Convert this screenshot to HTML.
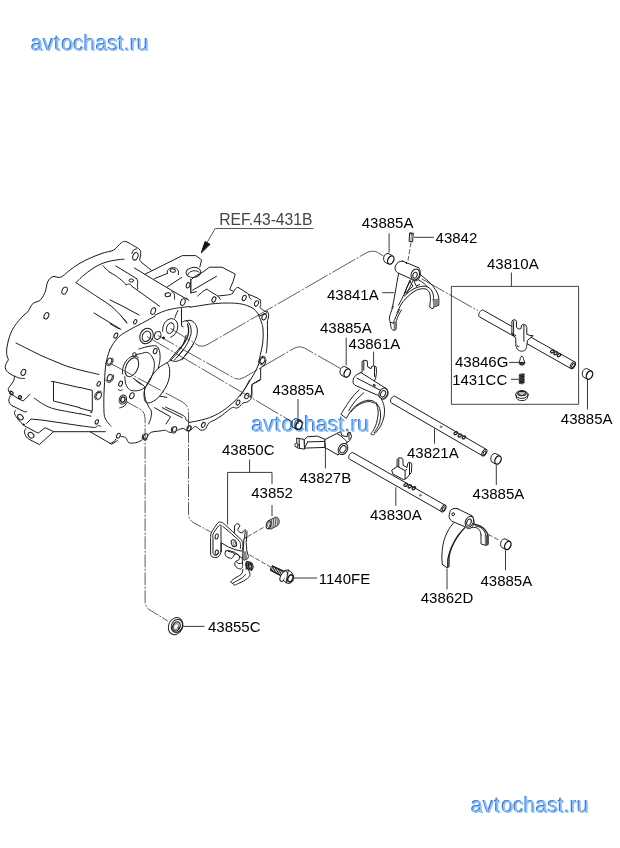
<!DOCTYPE html>
<html>
<head>
<meta charset="utf-8">
<title>avtochast.ru</title>
<style>
html,body{margin:0;padding:0;background:#fff;}
body{width:620px;height:848px;overflow:hidden;position:relative;font-family:"Liberation Sans",sans-serif;}
svg{position:absolute;left:0;top:0;display:block;}
.l{font-family:"Liberation Sans",sans-serif;font-size:15px;fill:#000;}
.ref{font-family:"Liberation Sans",sans-serif;font-size:15.7px;fill:#454545;}
.wmd{font-family:"Liberation Sans",sans-serif;font-size:21.2px;fill:#3d7dd0;}
.wml{font-family:"Liberation Sans",sans-serif;font-size:21.2px;fill:#8fc0f3;}
.k path,.k ellipse,.k line,.k circle{fill:none;stroke:#1c1c1c;stroke-width:1;stroke-linecap:round;stroke-linejoin:round;}
.k .f{fill:#fff;}
.k .t{stroke-width:.7;stroke:#444;}
.k .b{stroke-width:1.3;}
.k .d{stroke-width:.8;stroke:#333;stroke-dasharray:26 1.8 2 1.8;stroke-linecap:butt;}
.k .g{stroke:#666;}
.k .blk{fill:#111;stroke:#111;}
.k .wf{fill:#fff;stroke:#111;stroke-width:.5;}
.k .gr3{fill:#bbb;stroke:none;}
.k .gr4{fill:#ddd;stroke:#222;stroke-width:1;}
.k .d3{stroke-width:.8;stroke:#333;stroke-dasharray:13 1.5 2 1.5;stroke-linecap:butt;}
.k .d2{stroke-width:.8;stroke:#333;stroke-dasharray:5 1.8;stroke-linecap:butt;}
.k .fb{fill:#fff;stroke-width:1.3;stroke:#111;}
.k .gr5{fill:#555;stroke:#333;stroke-width:.6;}
.k .gr2{fill:#999;stroke:#222;stroke-width:.9;}
.k .f0{fill:none;stroke:none;}
.k .gr{fill:#8a8a8a;stroke:#555;stroke-width:.6;}
.k .ld{stroke:#3a3a3a;stroke-width:1;stroke-linecap:butt;}
.k .ldg{stroke:#555;stroke-width:1;stroke-linecap:butt;}
</style>
</head>
<body>
<svg width="620" height="848" viewBox="0 0 620 848">
<defs>
<linearGradient id="wg" x1="0" y1="0" x2="0" y2="1">
<stop offset="0" stop-color="#6fade9"/>
<stop offset="1" stop-color="#4a8edb"/>
</linearGradient>
<filter id="gs" x="0" y="0" width="100%" height="100%" filterUnits="userSpaceOnUse" color-interpolation-filters="sRGB"><feColorMatrix type="saturate" values="0"/></filter>
<filter id="wb" x="-5%" y="-30%" width="110%" height="170%" color-interpolation-filters="sRGB"><feGaussianBlur stdDeviation="0.28"/></filter>
</defs>
<rect x="0" y="0" width="620" height="848" fill="#fff"/>

<g id="housing" class="k">
<path d="M110.0,251.2 C108.7,251.6 104.7,252.5 102.0,253.4 C99.3,254.3 96.7,255.3 94.0,256.4 C91.3,257.5 88.7,258.7 86.0,260.0 C83.3,261.3 80.7,262.7 78.0,264.4 C75.3,266.1 72.3,268.3 70.0,270.0 C67.7,271.7 65.9,273.6 64.4,274.8 C62.9,276.0 62.1,276.6 61.0,277.0 C59.9,277.4 59.2,277.5 58.0,277.4 C56.8,277.3 55.3,276.3 54.0,276.4 C52.7,276.5 51.5,277.1 50.4,278.0 C49.3,278.9 48.3,280.5 47.6,282.0 C46.9,283.5 46.8,285.3 46.4,287.0 C46.0,288.7 45.7,290.6 45.0,292.4 C44.3,294.2 43.0,296.6 42.0,298.0 C41.0,299.4 40.2,300.3 39.0,301.0 C37.8,301.7 36.2,301.8 35.0,302.4 C33.8,303.0 32.8,303.5 32.0,304.4 C31.2,305.3 30.7,306.8 30.0,308.0 C29.3,309.2 29.0,310.4 28.0,311.6 C27.0,312.8 25.5,313.5 24.0,315.0 C22.5,316.5 20.7,318.4 19.0,320.4 C17.3,322.4 15.4,324.7 14.0,327.0 C12.6,329.3 11.4,331.5 10.4,334.0 C9.4,336.5 8.6,339.3 8.0,342.0 C7.4,344.7 6.8,347.7 6.6,350.0 C6.4,352.3 6.7,354.4 7.0,356.0 C7.3,357.6 8.4,358.6 8.4,359.6 C8.4,360.6 7.5,361.0 7.0,362.0 C6.5,363.0 5.6,364.4 5.4,365.6 C5.2,366.8 5.2,367.9 5.6,369.0 C6.0,370.1 6.9,371.4 8.0,372.4 C9.1,373.4 10.9,374.3 12.0,375.0 C13.1,375.7 14.2,376.2 14.6,376.4"/>
<path d="M124.0,259.2 C122.7,259.3 118.7,259.6 116.0,260.0 C113.3,260.4 110.7,260.9 108.0,261.6 C105.3,262.3 102.7,263.2 100.0,264.4 C97.3,265.6 94.7,267.2 92.0,269.0 C89.3,270.8 86.2,273.2 84.0,275.0 C81.8,276.8 80.3,278.3 79.0,279.6 C77.7,280.9 76.5,282.1 76.0,282.6"/>
<path d="M76.0,282.6 C79.3,284.8 89.9,291.9 95.8,295.8 C101.7,299.7 106.9,302.8 111.2,306.2 C115.5,309.6 119.0,313.6 121.6,316.4 C124.2,319.2 125.9,322.1 126.8,323.2"/>
<path d="M103.0,265.6 C103.3,266.0 103.8,266.9 105.0,268.0 C106.2,269.1 109.2,271.7 110.0,272.4"/>
<path d="M94.0,313.0 L121.0,329.4"/>
<path d="M16.0,343.0 C18.0,344.0 24.0,347.0 28.0,349.0 C32.0,351.0 35.7,353.0 40.0,355.0 C44.3,357.0 49.3,359.1 54.0,361.0 C58.7,362.9 63.0,364.9 68.0,366.6 C73.0,368.3 78.8,369.7 84.0,371.0 C89.2,372.3 96.5,373.8 99.0,374.4"/>
<ellipse cx="64.6" cy="290.6" rx="2.4" ry="3.8" transform="rotate(25 64.6 290.6)"/>
<ellipse cx="46.4" cy="315.8" rx="2.2" ry="3.4" transform="rotate(25 46.4 315.8)"/>
<ellipse cx="23.4" cy="372.4" rx="2.2" ry="3.2" transform="rotate(25 23.4 372.4)"/>
<path d="M110.0,251.5 C110.6,251.2 112.6,250.8 113.9,249.9 C115.2,249.1 116.5,247.6 117.7,246.3 C119.0,245.1 120.4,243.3 121.6,242.5 C122.8,241.6 123.8,241.4 124.8,241.4 C125.9,241.4 127.5,242.3 128.1,242.5"/>
<path d="M128.1,242.5 C129.4,243.2 134.0,245.9 135.8,247.0 C137.6,248.0 138.2,248.1 139.0,248.9 C139.8,249.7 140.5,250.6 140.7,251.7 C140.9,252.9 140.6,254.6 140.5,256.0 C140.3,257.4 139.5,258.8 139.7,259.9 C139.9,260.9 141.3,262.0 141.6,262.5"/>
<path d="M141.6,262.5 L151.3,270.2"/>
<ellipse cx="135.4" cy="256.3" rx="2.5" ry="3.9" transform="rotate(20 135.4 256.3)"/>
<path d="M136.5,248.9 C136.0,249.1 134.2,249.4 133.5,250.2 C132.7,250.9 132.2,252.9 131.9,253.4"/>
<path d="M115.8,265.9 L136.5,278.6"/>
<path d="M136.5,278.6 C136.7,279.0 137.6,280.0 137.7,281.2 C137.9,282.3 137.4,284.4 137.4,285.7 C137.4,287.0 137.7,288.4 137.7,288.9"/>
<path d="M110.0,272.4 C111.1,273.0 114.3,274.8 116.5,276.3 C118.6,277.8 121.3,280.0 122.9,281.4 C124.5,282.8 125.6,284.2 126.1,284.8"/>
<path d="M126.1,284.8 C126.7,284.6 128.4,283.8 129.4,284.0 C130.3,284.2 131.5,285.7 131.9,286.1"/>
<ellipse cx="131.3" cy="280.5" rx="2.3" ry="1.5"/>
<path d="M131.9,286.3 L159.7,306.3"/>
<path d="M134.5,268.0 L144.8,274.3 L166.8,287.6 L187.4,299.5"/>
<path d="M144.8,274.3 L182.3,255.6 L190.0,255.6"/>
<path d="M154.5,278.6 L167.4,273.4"/>
<path d="M167.4,273.4 C167.4,272.9 167.1,271.4 167.5,270.6 C168.0,269.7 169.1,268.8 170.0,268.3 C170.9,267.8 172.2,267.6 173.2,267.6 C174.3,267.7 175.6,267.9 176.5,268.5 C177.3,269.1 178.1,270.1 178.4,271.1 C178.7,272.1 178.4,274.1 178.4,274.7"/>
<ellipse cx="172.8" cy="270.6" rx="2.6" ry="1.7" transform="rotate(10 172.8 270.6)"/>
<path d="M166.8,287.2 L181.6,277.5"/>
<ellipse cx="188.1" cy="285.3" rx="1.8" ry="2.8" transform="rotate(20 188.1 285.3)"/>
<ellipse cx="167.8" cy="294.7" rx="2.8" ry="1.9" transform="rotate(-10 167.8 294.7)"/>
<path d="M171.9,291.5 C172.3,291.9 173.8,292.8 174.3,294.1 C174.7,295.4 174.5,298.4 174.5,299.2"/>
<ellipse cx="182.9" cy="302.1" rx="2.2" ry="3.4" transform="rotate(20 182.9 302.1)"/>
<path d="M186.1,297.9 C186.4,298.1 187.2,298.5 187.7,299.0 C188.1,299.4 188.5,300.3 188.7,300.5"/>
<ellipse cx="153.2" cy="311.1" rx="2.2" ry="3.5" transform="rotate(20 153.2 311.1)"/>
<path d="M110.0,299.9 L122.9,306.3 L139.0,315.0"/>
<path d="M155.2,315.0 C156.7,314.3 161.0,312.2 164.2,311.1 C167.4,310.0 170.2,309.3 174.5,308.5 C178.8,307.7 187.4,306.8 190.0,306.5"/>
<path d="M190.0,255.6 L195.8,255.6 L201.6,259.9 L199.8,267.0"/>
<path d="M198.0,274.7 L202.9,272.1 L209.4,267.2 L222.0,267.2 L235.2,274.1 L233.2,281.2 L229.7,289.5 L232.8,291.0"/>
<path d="M198.0,274.7 C197.4,275.0 195.5,275.9 194.5,276.6 C193.5,277.4 192.4,278.8 191.9,279.2"/>
<path d="M192.6,290.2 L216.5,276.3"/>
<path d="M190.8,279.2 L190.8,292.8" class="b"/>
<path d="M190.8,292.8 L196.5,291.7"/>
<path d="M197.7,296.0 C198.6,295.2 201.4,292.6 202.9,291.5 C204.4,290.3 206.1,289.5 206.8,289.2"/>
<path d="M206.8,289.2 C207.5,289.7 209.5,291.0 211.3,292.1 C213.1,293.3 216.2,294.8 217.7,296.0 C219.2,297.2 219.9,298.9 220.3,299.5"/>
<path d="M217.7,296.0 C219.6,295.8 226.2,295.2 228.7,294.8 C231.2,294.4 231.9,293.8 232.6,293.5"/>
<path d="M232.6,293.5 C232.9,293.0 233.9,291.1 234.5,290.2 C235.2,289.2 235.8,288.3 236.5,287.9 C237.1,287.4 238.1,287.7 238.4,287.6"/>
<path d="M238.4,287.6 L246.8,292.8"/>
<path d="M246.8,292.8 C247.1,293.1 248.2,293.9 248.7,294.7 C249.2,295.5 249.2,296.9 249.6,297.7 C250.0,298.4 251.0,299.0 251.3,299.2"/>
<path d="M248.7,294.3 L257.1,297.9 L260.3,300.0"/>
<path d="M260.3,300.0 C260.4,300.7 260.7,303.1 260.7,304.4 C260.7,305.7 259.6,306.9 260.3,308.0 C261.0,309.1 263.7,310.4 264.8,311.1 C266.0,311.8 266.8,312.0 267.2,312.1"/>
<ellipse cx="213.9" cy="299.5" rx="1.8" ry="2.8" transform="rotate(25 213.9 299.5)"/>
<ellipse cx="244.2" cy="297.9" rx="1.8" ry="2.8" transform="rotate(25 244.2 297.9)"/>
<ellipse cx="256.5" cy="303.4" rx="1.8" ry="2.8" transform="rotate(25 256.5 303.4)"/>
<path d="M190.0,307.2 C192.2,306.9 198.6,305.8 202.9,305.2 C207.2,304.5 211.5,303.8 215.8,303.5 C220.1,303.1 224.7,302.9 228.7,303.0 C232.7,303.0 236.6,303.3 239.7,303.7 C242.8,304.2 245.1,304.8 247.4,305.7 C249.8,306.6 252.0,307.6 253.9,309.0 C255.7,310.5 257.6,313.3 258.4,314.2"/>
<path d="M155.2,316.0 C153.0,317.2 146.6,320.8 142.3,323.1 C138.0,325.4 133.0,327.8 129.4,329.9 C125.7,332.0 122.8,333.6 120.3,335.6 C117.8,337.6 116.2,339.5 114.5,341.8 C112.8,344.1 110.8,348.0 110.0,349.3"/>
<ellipse cx="135.2" cy="321.8" rx="1.4" ry="2.3" transform="rotate(25 135.2 321.8)"/>
<ellipse cx="115.8" cy="335.6" rx="1.7" ry="2.8" transform="rotate(25 115.8 335.6)"/>
<ellipse cx="120.6" cy="383.7" rx="1.7" ry="2.7" transform="rotate(25 120.6 383.7)"/>
<path d="M121.0,316.0 L126.8,322.5"/>
<path d="M110.0,323.7 L119.0,328.9"/>
<ellipse cx="146.5" cy="336.0" rx="6.5" ry="8.0" transform="rotate(25 146.5 336.0)"/>
<ellipse cx="146.5" cy="336.3" rx="4.1" ry="5.4" transform="rotate(25 146.5 336.3)"/>
<ellipse cx="157.7" cy="335.4" rx="3.2" ry="4.1" transform="rotate(20 157.7 335.4)"/>
<ellipse cx="163.5" cy="337.9" rx="0.9" ry="1.0" class="blk"/>
<ellipse cx="134.5" cy="354.7" rx="1.8" ry="2.1"/>
<ellipse cx="155.2" cy="351.1" rx="1.8" ry="2.8" transform="rotate(20 155.2 351.1)"/>
<path d="M133.2,378.2 L143.8,385.7"/>
<path d="M135.8,380.5 L141.0,384.4"/>
<ellipse cx="109.4" cy="361.2" rx="2.2" ry="3.2" transform="rotate(25 109.4 361.2)"/>
<path d="M112.6,358.3 C112.7,358.5 113.0,359.1 113.0,359.5 C113.1,360.0 113.1,360.5 113.0,360.9 C112.9,361.4 112.8,361.9 112.6,362.4 C112.4,362.9 112.1,363.3 111.8,363.7 C111.5,364.1 111.2,364.5 110.8,364.8 C110.4,365.1 110.0,365.3 109.6,365.4 C109.2,365.6 108.8,365.6 108.4,365.6 C108.0,365.6 107.6,365.5 107.3,365.3 C106.9,365.1 106.6,364.9 106.4,364.6 C106.1,364.3 105.9,363.6 105.8,363.4"/>
<path d="M118.4,389.5 C118.7,389.7 119.7,390.5 120.3,390.6 C121.0,390.6 121.9,389.9 122.3,389.8"/>
<path d="M258.4,314.2 C258.6,314.8 259.1,316.3 259.6,317.6 C260.1,318.9 260.9,320.4 261.4,322.0 C261.9,323.6 262.5,324.9 262.8,327.1 C263.1,329.3 263.2,332.5 263.2,335.0 C263.2,337.5 263.0,339.8 262.8,342.0 C262.6,344.2 262.2,345.8 261.8,348.0 C261.4,350.2 260.8,352.7 260.2,355.5 C259.6,358.3 258.7,363.4 258.4,365.0"/>
<path d="M267.2,311.4 C267.4,311.8 268.5,312.8 268.7,313.9 C268.9,315.0 268.4,316.8 268.2,318.1 C268.0,319.5 267.5,319.2 267.4,322.0 C267.3,324.8 267.6,330.9 267.5,335.0 C267.4,339.1 267.2,343.5 267.0,346.5 C266.8,349.5 266.3,351.9 266.2,353.0"/>
<path d="M259.2,316.2 L266.5,313.0"/>
<ellipse cx="264.2" cy="316.9" rx="2.1" ry="3.1" transform="rotate(25 264.2 316.9)"/>
<path d="M258.4,365.0 C257.5,366.8 255.2,371.9 253.2,375.4 C251.3,378.8 248.9,382.2 246.8,385.7 C244.6,389.1 241.4,394.3 240.3,396.0"/>
<path d="M266.1,359.9 L265.1,364.0 L260.7,367.9 L260.7,379.2 L251.9,384.4 L251.7,393.4 L250.4,396.6"/>
<ellipse cx="262.5" cy="360.5" rx="2.2" ry="3.1" transform="rotate(25 262.5 360.5)"/>
<path d="M262.4,364.7 C262.2,364.7 261.4,364.8 261.0,364.6 C260.6,364.5 260.1,364.2 259.8,363.9 C259.5,363.5 259.2,363.0 259.1,362.5 C259.0,362.0 258.9,361.4 259.0,360.8 C259.0,360.3 259.2,359.6 259.5,359.1 C259.7,358.6 260.1,358.0 260.5,357.6 C260.9,357.2 261.4,356.8 261.9,356.6 C262.3,356.4 262.9,356.3 263.3,356.3 C263.8,356.3 264.3,356.5 264.7,356.7 C265.1,357.0 265.5,357.6 265.6,357.8"/>
<ellipse cx="131.9" cy="395.7" rx="2.1" ry="3.1" transform="rotate(25 131.9 395.7)"/>
<ellipse cx="122.9" cy="399.6" rx="3.6" ry="4.6" transform="rotate(20 122.9 399.6)"/>
<ellipse cx="122.9" cy="399.6" rx="2.1" ry="2.7" transform="rotate(20 122.9 399.6)" class="b"/>
<path d="M119.7,407.9 C120.4,407.6 122.9,407.1 124.2,406.1 C125.5,405.0 127.1,402.4 127.7,401.7"/>
<path d="M144.8,386.5 C144.8,387.5 144.3,390.8 144.5,392.9 C144.6,395.1 145.0,397.5 145.5,399.4 C146.0,401.2 146.8,402.5 147.4,403.9 C148.0,405.2 148.3,406.2 149.0,407.4 C149.6,408.5 150.9,409.3 151.3,411.0 C151.6,412.6 151.5,415.3 151.0,417.4 C150.6,419.6 149.1,422.8 148.7,423.9"/>
<path d="M159.7,396.1 L166.8,397.4"/>
<path d="M154.5,407.7 L170.6,416.8 L166.1,423.9"/>
<path d="M162.3,407.7 L182.3,417.7"/>
<path d="M165.5,407.1 C168.5,408.5 180.1,413.6 183.5,415.7 C187.0,417.9 185.1,418.9 186.1,420.0 C187.2,421.1 189.4,422.2 190.0,422.6"/>
<path d="M110.0,443.5 C110.6,443.2 112.9,442.4 113.9,441.7 C114.8,440.9 115.5,439.5 115.8,439.1"/>
<path d="M121.0,436.5 C121.7,436.7 124.4,436.7 125.5,437.4 C126.6,438.1 126.8,439.7 127.4,440.6 C128.1,441.6 128.0,442.6 129.4,443.0 C130.8,443.3 133.9,443.1 135.8,442.7 C137.7,442.3 139.7,441.4 141.0,440.6 C142.2,439.9 142.9,438.7 143.3,438.3"/>
<path d="M147.7,435.7 C148.3,435.2 149.4,433.0 151.3,432.3 C153.2,431.5 156.7,431.4 159.0,431.1 C161.4,430.8 163.9,430.2 165.5,430.3 C167.0,430.5 167.3,431.5 168.3,431.9 C169.4,432.3 171.1,432.5 171.7,432.6"/>
<path d="M176.8,430.6 C177.4,430.3 179.2,429.4 180.3,429.0 C181.4,428.7 182.5,428.3 183.5,428.5 C184.6,428.8 185.9,430.2 186.4,430.6"/>
<ellipse cx="118.4" cy="435.7" rx="1.7" ry="2.6" transform="rotate(25 118.4 435.7)"/>
<ellipse cx="145.5" cy="436.4" rx="1.9" ry="2.8" transform="rotate(25 145.5 436.4)"/>
<path d="M147.1,439.3 C146.9,439.4 146.5,439.7 146.2,439.8 C145.9,440.0 145.6,440.1 145.2,440.1 C144.9,440.1 144.6,440.1 144.3,440.1 C144.0,440.0 143.7,439.9 143.5,439.7 C143.2,439.5 143.0,439.3 142.8,439.0 C142.6,438.8 142.5,438.4 142.4,438.1 C142.3,437.8 142.2,437.4 142.2,437.1 C142.2,436.7 142.3,436.3 142.4,436.0 C142.5,435.6 142.6,435.2 142.8,434.9 C142.9,434.6 143.3,434.1 143.4,434.0"/>
<ellipse cx="174.5" cy="429.3" rx="1.9" ry="2.8" transform="rotate(25 174.5 429.3)"/>
<path d="M176.1,432.2 C176.0,432.3 175.5,432.6 175.2,432.7 C174.9,432.9 174.6,433.0 174.3,433.0 C174.0,433.1 173.6,433.0 173.3,433.0 C173.0,432.9 172.8,432.8 172.5,432.6 C172.3,432.4 172.0,432.2 171.8,431.9 C171.7,431.7 171.5,431.3 171.4,431.0 C171.3,430.7 171.3,430.3 171.3,430.0 C171.3,429.6 171.3,429.2 171.4,428.9 C171.5,428.5 171.6,428.1 171.8,427.8 C172.0,427.5 172.3,427.0 172.4,426.9"/>
<ellipse cx="189.0" cy="428.4" rx="1.8" ry="2.8" transform="rotate(25 189.0 428.4)" class="b"/>
<path d="M249.4,380.0 C248.7,381.3 247.0,385.3 245.5,387.7 C244.0,390.2 242.3,392.5 240.3,394.8 C238.4,397.2 236.2,399.7 233.9,401.9 C231.5,404.2 228.7,406.5 226.1,408.4 C223.5,410.3 221.2,412.0 218.4,413.5 C215.6,415.1 212.4,416.6 209.4,417.7 C206.3,418.8 203.5,419.5 200.3,420.3 C197.1,421.0 191.7,422.0 190.0,422.3"/>
<path d="M260.3,380.0 C259.8,380.3 258.4,381.2 257.1,381.9 C255.8,382.7 253.5,383.3 252.6,384.5 C251.7,385.7 251.8,387.2 251.7,389.0 C251.6,390.9 252.1,393.8 251.9,395.5 C251.8,397.2 251.5,398.2 250.6,399.4 C249.8,400.5 248.1,401.6 246.8,402.2 C245.5,402.8 244.1,402.3 242.9,403.0 C241.7,403.7 240.8,405.6 239.7,406.5 C238.6,407.3 237.6,408.0 236.5,408.1 C235.3,408.3 234.1,406.9 232.6,407.4 C231.1,407.8 229.4,409.5 227.4,411.0 C225.5,412.4 223.1,414.6 221.0,416.1 C218.8,417.6 216.5,418.9 214.5,420.0 C212.6,421.1 210.6,421.5 209.4,422.6 C208.1,423.7 207.5,425.3 206.8,426.5 C206.0,427.6 205.9,429.1 204.8,429.7 C203.8,430.3 201.5,430.4 200.3,430.1 C199.1,429.7 198.6,428.3 197.7,427.7 C196.9,427.1 196.0,426.3 195.2,426.5 C194.3,426.6 193.4,427.7 192.6,428.4 C191.7,429.0 190.4,430.0 190.0,430.3"/>
<ellipse cx="246.8" cy="396.1" rx="1.9" ry="2.8" transform="rotate(25 246.8 396.1)"/>
<ellipse cx="238.0" cy="402.6" rx="1.7" ry="2.6" transform="rotate(25 238.0 402.6)"/>
<ellipse cx="203.3" cy="424.9" rx="1.7" ry="2.6" transform="rotate(25 203.3 424.9)"/>
<path d="M14.6,376.1 C15.4,376.4 17.7,377.6 19.4,378.0 C21.0,378.4 23.7,378.4 24.5,378.5"/>
<path d="M14.6,376.1 C14.4,376.9 14.2,379.5 13.5,381.0 C12.9,382.4 11.8,383.6 11.0,384.8 C10.1,386.1 8.8,387.2 8.4,388.3 C8.0,389.4 8.7,390.8 8.8,391.3"/>
<ellipse cx="11.4" cy="393.0" rx="1.9" ry="1.5" transform="rotate(30 11.4 393.0)" class="b"/>
<ellipse cx="20.0" cy="397.1" rx="1.5" ry="1.4" transform="rotate(30 20.0 397.1)" class="b"/>
<path d="M8.8,391.3 L12.9,395.2 L18.1,398.6 L23.2,401.0 L29.9,394.3"/>
<path d="M10.3,395.8 C10.1,396.5 8.9,398.4 8.8,399.7 C8.7,401.0 9.0,402.5 9.7,403.5 C10.4,404.6 12.4,405.7 12.9,406.1"/>
<path d="M12.9,406.1 L25.2,412.1 L26.7,411.3"/>
<path d="M15.5,410.3 C15.3,410.8 14.2,412.0 14.5,413.2 C14.7,414.5 15.7,416.2 16.8,417.7 C17.8,419.2 19.5,421.1 20.6,422.3 C21.8,423.4 23.0,424.4 23.5,424.8"/>
<ellipse cx="20.4" cy="417.1" rx="3.1" ry="2.3" transform="rotate(40 20.4 417.1)"/>
<ellipse cx="23.5" cy="424.5" rx="0.6" ry="0.6" class="blk"/>
<path d="M26.5,423.5 L31.0,419.0 L43.9,420.3 L80.0,425.7"/>
<path d="M23.9,425.5 L38.1,433.2 L45.2,427.7 L53.9,431.7"/>
<path d="M25.8,428.7 C25.6,429.2 24.4,430.5 24.5,431.9 C24.6,433.3 25.4,435.7 26.5,437.1 C27.5,438.5 30.2,439.8 31.0,440.3"/>
<path d="M31.0,440.3 L39.4,444.6 L53.5,431.7"/>
<ellipse cx="31.0" cy="435.2" rx="3.2" ry="2.5" transform="rotate(40 31.0 435.2)"/>
<path d="M34.2,398.1 C35.6,399.1 39.7,402.2 42.6,403.8 C45.5,405.5 48.0,406.9 51.6,408.1 C55.3,409.3 59.8,410.1 64.5,411.0 C69.2,412.0 77.4,413.4 80.0,413.9"/>
<path d="M51.6,381.4 L53.5,381.6 L80.0,387.7"/>
<path d="M53.5,381.6 L53.5,401.0 L80.0,407.7"/>
<path d="M80.0,387.4 L92.3,390.4 L92.3,411.3 L80.0,408.2"/>
<path d="M90.3,412.1 L91.7,412.6"/>
<path d="M80.0,413.6 L91.0,416.2"/>
<path d="M80.0,425.7 C81.4,425.9 85.9,426.5 88.4,426.8 C90.9,427.1 93.3,427.5 94.8,427.4 C96.3,427.3 96.8,426.5 97.4,426.1 C98.1,425.8 98.2,425.5 98.7,425.5 C99.2,425.5 100.3,426.1 100.6,426.3"/>
<path d="M53.9,431.7 L105.2,431.7"/>
<path d="M90.3,431.9 L111.6,444.2 L117.4,440.7"/>
<path d="M109.9,349.4 C109.4,351.1 107.5,356.2 106.7,359.7 C105.9,363.1 105.5,366.1 105.2,370.0 C104.8,373.9 104.7,378.6 104.5,382.9 C104.3,387.2 104.0,391.5 103.9,395.8 C103.8,400.1 103.8,405.3 103.9,408.7 C104.0,412.2 104.0,414.3 104.5,416.5 C105.1,418.6 106.0,420.0 107.1,421.6 C108.2,423.2 110.3,425.4 111.0,426.1"/>
<ellipse cx="109.7" cy="377.7" rx="2.3" ry="3.4" transform="rotate(25 109.7 377.7)"/>
<path d="M113.1,374.8 C113.1,375.0 113.4,375.6 113.5,376.1 C113.5,376.5 113.5,377.0 113.5,377.5 C113.4,378.0 113.3,378.6 113.1,379.0 C112.9,379.5 112.6,380.0 112.3,380.4 C112.0,380.8 111.6,381.2 111.2,381.5 C110.8,381.8 110.4,382.0 110.0,382.1 C109.6,382.3 109.1,382.3 108.7,382.3 C108.3,382.3 107.9,382.2 107.5,382.0 C107.2,381.8 106.9,381.6 106.6,381.2 C106.4,380.9 106.1,380.3 106.0,380.1"/>
<ellipse cx="98.7" cy="383.9" rx="1.5" ry="2.5" transform="rotate(25 98.7 383.9)"/>
<ellipse cx="98.7" cy="395.8" rx="2.5" ry="3.5" transform="rotate(25 98.7 395.8)"/>
<path d="M96.1,399.9 C95.9,399.7 95.5,399.3 95.3,398.9 C95.0,398.5 94.9,398.1 94.8,397.6 C94.7,397.1 94.7,396.6 94.8,396.1 C94.8,395.6 95.0,395.0 95.2,394.5 C95.4,394.0 95.7,393.6 96.0,393.1 C96.3,392.7 96.7,392.3 97.1,392.0 C97.4,391.7 97.9,391.5 98.3,391.3 C98.8,391.2 99.2,391.1 99.6,391.1 C100.1,391.1 100.5,391.2 100.8,391.4 C101.2,391.6 101.7,392.0 101.8,392.2"/>
<ellipse cx="96.8" cy="421.9" rx="1.5" ry="2.3" transform="rotate(25 96.8 421.9)"/>
<path d="M139.0,349.0 C140.3,348.6 144.3,347.3 146.9,346.7 C149.5,346.2 152.9,345.5 154.8,345.7 C156.7,345.9 157.4,346.6 158.3,347.9 C159.1,349.2 159.7,351.5 159.9,353.5 C160.2,355.6 160.2,357.8 159.9,360.3 C159.7,362.7 158.5,366.9 158.3,368.3"/>
<path d="M135.8,354.7 C136.7,354.5 139.4,353.9 141.2,353.5 C143.1,353.2 145.2,352.0 146.9,352.4 C148.6,352.8 150.2,354.0 151.4,355.7 C152.6,357.4 153.9,360.1 154.3,362.6 C154.6,365.0 154.3,367.8 153.7,370.5 C153.2,373.1 152.0,375.9 150.9,378.3 C149.8,380.8 148.5,383.3 146.9,385.2 C145.3,387.1 143.3,388.7 141.2,389.7 C139.2,390.6 136.5,390.9 134.5,390.8 C132.5,390.8 130.8,390.7 129.4,389.5 C127.9,388.4 126.5,385.9 125.7,383.7 C125.0,381.6 125.0,377.8 124.8,376.6"/>
<path d="M167.3,362.6 C167.7,363.5 169.1,366.0 169.5,368.3 C169.8,370.5 169.8,373.5 169.5,376.1 C169.1,378.8 168.4,381.4 167.3,384.0 C166.2,386.6 164.5,389.4 162.8,391.9 C161.1,394.3 159.2,396.9 157.1,398.7 C155.0,400.5 152.2,402.0 150.3,402.6 C148.4,403.1 146.8,403.1 145.7,402.1 C144.7,401.0 144.2,398.5 144.1,396.4 C143.9,394.3 143.7,392.7 144.7,389.7 C145.7,386.7 148.0,381.9 150.3,378.3 C152.5,374.8 155.4,370.9 158.3,368.3 C161.1,365.6 165.8,363.5 167.3,362.6"/>
<path d="M167.3,362.6 C168.2,361.8 171.0,360.0 172.8,358.1 C174.7,356.2 176.8,353.5 178.5,351.2 C180.2,349.0 181.8,347.2 183.0,344.5 C184.3,341.9 185.6,336.9 186.1,335.4"/>
<path d="M170.6,360.3 C171.4,360.5 173.7,361.4 175.2,361.4 C176.7,361.4 178.2,361.0 179.7,360.3 C181.2,359.5 182.7,358.4 184.2,356.9 C185.7,355.4 187.2,353.3 188.7,351.2 C190.2,349.2 192.5,345.6 193.2,344.5"/>
<ellipse cx="131.9" cy="367.2" rx="5.9" ry="10.1" transform="rotate(25 131.9 367.2)"/>
<path d="M122.7,374.0 C122.7,373.6 122.5,372.2 122.5,371.2 C122.5,370.2 122.6,369.1 122.9,368.1 C123.1,367.0 123.4,365.9 123.9,364.9 C124.3,363.9 124.8,362.9 125.4,362.0 C126.0,361.1 126.7,360.2 127.4,359.4 C128.1,358.7 128.9,358.0 129.7,357.5 C130.5,357.0 131.3,356.5 132.1,356.3 C132.9,356.0 133.7,355.9 134.5,355.9 C135.2,355.9 135.9,356.1 136.6,356.4 C137.2,356.6 138.1,357.4 138.4,357.6"/>
<path d="M181.5,308.5 L181.5,326.1 L183.2,326.7"/>
<path d="M177.9,310.6 C177.6,311.3 176.5,313.3 176.0,314.5 C175.5,315.7 175.2,317.3 175.0,317.9"/>
<path d="M162.7,331.3 C162.7,330.5 162.6,328.2 163.0,326.8 C163.3,325.4 164.0,323.8 164.9,322.6 C165.7,321.4 166.9,320.4 168.0,319.7 C169.1,319.0 170.5,318.6 171.6,318.6 C172.7,318.7 174.0,319.1 174.9,319.7 C175.8,320.4 176.6,321.5 177.1,322.7 C177.6,323.9 177.8,325.4 177.7,326.9 C177.7,328.3 177.3,330.0 176.7,331.3 C176.1,332.7 175.1,334.1 174.1,335.1 C173.1,336.0 171.3,336.8 170.7,337.2"/>
<ellipse cx="170.2" cy="328.1" rx="3.6" ry="5.4" transform="rotate(20 170.2 328.1)"/>
<path d="M186.1,320.8 C186.8,320.7 188.7,320.1 190.0,320.3 C191.3,320.6 192.8,321.1 193.9,322.3 C195.0,323.4 196.2,325.3 196.8,327.1 C197.4,328.9 197.4,331.0 197.3,332.9 C197.1,334.8 196.5,336.8 195.8,338.7 C195.1,340.7 194.0,342.6 192.9,344.5 C191.8,346.5 190.3,348.6 189.0,350.3 C187.8,352.1 186.3,353.6 185.2,355.2 C184.0,356.8 182.7,359.2 182.3,360.0"/>
<path d="M182.7,321.8 C183.3,321.6 185.1,320.6 186.1,320.8 C187.2,321.1 188.2,322.0 189.0,323.2 C189.8,324.4 190.7,326.3 191.0,328.1 C191.3,329.8 191.3,331.9 191.0,333.9 C190.7,335.8 189.8,337.8 189.0,339.7 C188.2,341.6 187.2,343.7 186.1,345.5 C185.1,347.3 183.9,348.9 182.7,350.3 C181.6,351.8 179.9,353.6 179.4,354.2"/>
<path d="M187.6,324.2 C187.8,325.0 188.5,327.3 188.6,329.0 C188.6,330.8 188.5,333.1 188.1,334.8 C187.7,336.6 186.9,338.1 186.1,339.7 C185.3,341.3 184.3,343.1 183.2,344.5 C182.2,346.0 180.4,347.8 179.8,348.4" class="b"/>
<path d="M179.4,348.4 L169.7,360.0"/>
<path d="M183.2,350.3 L174.5,360.0"/>
<ellipse cx="193.4" cy="272.4" rx="7.4" ry="5.0" transform="rotate(-5 193.4 272.4)"/>
<path d="M188.0,274.9 C188.0,274.8 188.0,274.3 188.1,274.0 C188.3,273.7 188.4,273.4 188.7,273.1 C188.9,272.8 189.2,272.5 189.6,272.2 C189.9,272.0 190.3,271.7 190.7,271.6 C191.2,271.4 191.7,271.2 192.1,271.1 C192.6,270.9 193.2,270.9 193.7,270.8 C194.2,270.8 194.7,270.8 195.2,270.8 C195.7,270.8 196.3,270.9 196.7,271.0 C197.2,271.1 197.6,271.3 198.0,271.5 C198.4,271.7 198.9,272.0 199.0,272.2"/>
</g>
<g id="centerlines" class="k">
<path d="M383.5,256 L377.5,252.3 Q375.5,251.2 372.5,251.2 Q369,251.3 366,253 L207,344.8 Q203,347 199,345.9 L170.4,328.3" class="d"/>
<path d="M340.6,368.6 L304.5,348 Q299.6,345.3 294.6,348 L244.2,377.4 Q239.5,380.2 235.2,378.6 L157.7,335.4" class="d"/>
<path d="M147,336.5 L293,422.3" class="d"/>
<path d="M110,363.1 L182.3,401.9 Q188.5,405.5 188.5,412" class="d"/>
<path d="M188.5,412 V513 Q188.5,520 194,523 L211.3,532.3" class="d3"/>
<path d="M126.8,401.9 L141,409.7 Q145.1,412.5 145.1,418.7 V602 Q145.3,607.5 150,610 L167.7,621" class="d3"/>
<path d="M247.4,536.8 L265,526.5" class="d2"/>
<path d="M249.4,554.8 L270.5,567" class="d2"/>
<path d="M221,538.7 L234,545.2" class="d2"/>
<path d="M421.6,278.8 L478,310.7" class="d"/>
<path d="M411,242.4 L407.7,262.4" class="d2"/>
<path d="M488,534.2 L499.7,540.6" class="d2"/>
</g>
<g id="rods" class="k">
<path d="M451.8,286.4 H578.6 V404.3 H451.8 Z" style="stroke-width:.95;stroke:#3a3a3a"/>
<path d="M571.0,368.6 L479.4,316.8 L479.0,316.4 L478.8,315.9 L478.7,315.1 L478.8,314.3 L479.1,313.4 L479.5,312.5 L480.0,311.7 L480.7,311.0 L481.3,310.4 L482.0,310.1 L482.6,310.0 L483.2,310.2 L574.8,362.0" class="f"/>
<ellipse cx="572.9" cy="365.3" rx="2.1" ry="3.8" transform="rotate(29.5 572.9 365.3)" class="f"/>
<ellipse cx="573.2" cy="365.4" rx="1.1" ry="2.3" transform="rotate(29.5 572.9 365.3)"/>
<ellipse cx="552.3" cy="351.3" rx="1.9" ry="1.2" transform="rotate(-30.5 552.3 351.3)" class="b"/>
<ellipse cx="555.6" cy="353.2" rx="1.9" ry="1.2" transform="rotate(-30.5 555.6 353.2)" class="b"/>
<ellipse cx="559.0" cy="355.2" rx="1.9" ry="1.2" transform="rotate(-30.5 559.0 355.2)" class="b"/>
<path d="M511.9,333.5 L511.9,321.3 L513.0,319.9 L515.4,319.9 L516.5,321.3 L516.5,327.2 L518.3,329.0 L520.8,328.8 L521.5,325.4 L523.3,324.3 L525.7,325.0 L526.8,327.5 L526.8,334.2 L530.0,335.5 L533.2,335.7 L530.0,338.1 L527.4,340.6 L526.8,345.8 L526.8,345.8 C526.6,346.5 526.3,348.8 525.5,349.7 C524.6,350.6 522.9,351.2 521.6,351.2 C520.3,351.2 518.7,350.6 517.7,349.7 C516.8,348.8 516.1,346.5 515.8,345.8 L515.8,345.8 L515.8,338.1 L511.9,333.5 Z" class="f"/>
<path d="M513.6,321.5 L513.6,334.8"/>
<path d="M523.9,325.4 L523.9,341.3"/>
<path d="M517.1,345.2 C517.2,345.5 517.7,346.9 518.0,347.1 C518.3,347.2 518.9,346.2 519.0,346.1"/>
<path d="M511.9,333.5 L515.8,335.7"/>
<path d="M482.5,455.8 L391.1,402.7 L390.7,402.3 L390.5,401.8 L390.4,401.0 L390.5,400.2 L390.8,399.3 L391.2,398.5 L391.8,397.7 L392.4,397.0 L393.1,396.5 L393.7,396.2 L394.3,396.1 L394.9,396.3 L486.3,449.4" class="f"/>
<ellipse cx="484.4" cy="452.6" rx="2.0" ry="3.7" transform="rotate(30.2 484.4 452.6)" class="f"/>
<ellipse cx="484.7" cy="452.8" rx="1.1" ry="2.2" transform="rotate(30.2 484.4 452.6)"/>
<ellipse cx="455.8" cy="433.2" rx="1.9" ry="1.2" transform="rotate(-29.8 455.8 433.2)" class="b"/>
<ellipse cx="459.8" cy="435.6" rx="1.9" ry="1.2" transform="rotate(-29.8 459.8 435.6)" class="b"/>
<ellipse cx="463.9" cy="437.3" rx="1.9" ry="1.2" transform="rotate(-29.8 463.9 437.3)" class="b"/>
<circle cx="441.0" cy="426.8" r="0.9" class="t"/>
<path d="M441.7,511.7 L349.4,459.1 L349.0,458.7 L348.7,458.2 L348.7,457.5 L348.8,456.6 L349.0,455.8 L349.4,454.9 L350.0,454.1 L350.6,453.4 L351.2,452.9 L351.9,452.6 L352.5,452.5 L353.0,452.7 L445.3,505.3" class="f"/>
<ellipse cx="443.5" cy="508.5" rx="2.0" ry="3.7" transform="rotate(29.7 443.5 508.5)" class="f"/>
<ellipse cx="443.8" cy="508.6" rx="1.1" ry="2.2" transform="rotate(29.7 443.5 508.5)"/>
<ellipse cx="405.8" cy="484.8" rx="1.9" ry="1.2" transform="rotate(-30.3 405.8 484.8)" class="b"/>
<ellipse cx="409.8" cy="486.5" rx="1.9" ry="1.2" transform="rotate(-30.3 409.8 486.5)" class="b"/>
<ellipse cx="413.9" cy="488.1" rx="1.9" ry="1.2" transform="rotate(-30.3 413.9 488.1)" class="b"/>
<circle cx="420.3" cy="495.3" r="0.9" class="t"/>
<path d="M397.1,466.2 L397.1,459.3 L398.8,457.8 L401.9,458.0 L403.0,459.9 L403.0,465.2 L407.1,467.5 L407.6,463.5 L409.2,462.2 L411.3,463.1 L411.8,465.6 L411.3,472.5 L406.7,478.2 L403.4,479.6 L392.9,474.0 L391.8,470.6 Z" class="f"/>
<path d="M398.8,458.9 L398.8,466.8"/>
<path d="M409.5,463.1 L409.5,474.6"/>
<path d="M397.1,466.2 L405.1,470.6 L405.1,479.0"/>
<path d="M405.1,470.6 L406.7,469.4"/>
</g>
<g id="forks" class="k">
<path d="M402.6,261.1 C401.9,261.3 399.8,261.4 398.6,262.0 C397.5,262.7 396.4,263.9 395.8,265.1 C395.2,266.2 394.9,267.9 395.0,269.0 C395.2,270.2 396.1,271.2 396.7,271.9 C397.3,272.6 398.3,273.0 398.6,273.2 L398.6,273.2 L411.0,278.9 L411.0,278.9 C411.5,279.1 412.8,280.3 413.9,280.5 C414.9,280.8 416.3,280.9 417.3,280.3 C418.2,279.7 419.2,278.3 419.7,276.9 C420.3,275.6 420.6,273.9 420.4,272.4 C420.3,270.9 419.2,268.7 419.0,267.9 L419.0,267.9 L402.6,261.1 Z" class="f"/>
<ellipse cx="415.3" cy="274.5" rx="4.1" ry="5.6" transform="rotate(20 415.3 274.5)" class="f"/>
<ellipse cx="415.0" cy="275.2" rx="2.1" ry="3.0" transform="rotate(20 415.0 275.2)"/>
<path d="M406.2,262.5 L406.6,263.4" class="b"/>
<path d="M398.6,273.5 C398.3,275.1 397.5,279.4 396.9,282.6 C396.4,285.8 395.8,289.5 395.2,292.7 C394.7,295.9 394.1,299.1 393.5,301.8 C393.0,304.4 392.1,307.4 391.9,308.5"/>
<path d="M410.7,279.8 C410.1,281.0 408.2,284.7 407.1,287.1 C406.0,289.4 405.2,291.8 404.3,293.9 C403.3,295.9 402.4,297.6 401.5,299.5 C400.5,301.4 399.1,304.2 398.6,305.2"/>
<path d="M412.7,280.9 C412.3,281.9 411.0,284.9 409.9,287.1 C408.9,289.3 407.1,292.7 406.5,293.9"/>
<path d="M409.6,280.9 L404.3,293.9 L413.0,286.2 L409.6,280.9"/>
<path d="M404.3,296.1 C405.1,295.4 407.6,292.9 409.4,291.6 C411.1,290.3 413.1,289.1 415.0,288.2 C416.9,287.4 419.0,286.9 420.6,286.5 C422.3,286.2 423.7,285.9 425.2,286.2 C426.7,286.5 428.5,287.2 429.7,288.2 C430.9,289.2 431.8,290.7 432.5,292.2 C433.2,293.7 433.5,296.0 433.6,297.3 C433.8,298.5 433.3,299.3 433.3,299.7"/>
<path d="M396.9,313.1 C397.4,312.0 398.7,308.8 399.8,306.9 C400.8,304.9 401.7,303.3 403.1,301.5 C404.6,299.8 406.4,297.8 408.2,296.1 C410.0,294.5 412.0,292.8 413.9,291.6 C415.8,290.4 417.6,289.6 419.5,289.1 C421.4,288.7 423.7,288.5 425.2,288.8 C426.7,289.1 427.7,290.0 428.5,291.0 C429.4,292.1 429.9,293.4 430.2,295.0 C430.5,296.6 430.4,298.8 430.4,300.6 C430.3,302.5 429.8,305.4 429.7,306.3"/>
<path d="M419.7,274.1 C420.6,274.9 423.3,277.0 425.2,278.6 C427.0,280.2 429.1,281.9 430.8,283.7 C432.5,285.5 434.1,287.5 435.3,289.4 C436.5,291.2 437.6,293.3 438.1,295.0 C438.7,296.7 438.7,297.8 438.8,299.5 C438.9,301.2 438.7,304.2 438.7,305.2"/>
<path d="M418.4,279.8 C419.1,280.2 421.4,281.5 422.9,282.6 C424.4,283.7 426.7,285.9 427.4,286.5"/>
<path d="M413.9,280.9 L416.4,286.2"/>
<path d="M416.4,286.2 L419.7,284.3"/>
<path d="M429.7,306.3 C429.9,306.6 430.2,307.6 430.8,308.0 C431.4,308.4 432.6,308.7 433.1,308.5 C433.6,308.4 433.6,307.2 433.7,307.0"/>
<path d="M433.7,307.0 L438.7,305.2"/>
<path d="M433.1,299.7 L438.7,299.0 L438.7,305.2 L433.7,307.0 L433.1,299.7 Z" class="gr"/>
<path d="M393.4,306.1 C393.1,306.9 392.0,309.4 391.4,311.0 C390.8,312.6 390.1,314.3 389.8,315.8 C389.4,317.3 389.3,318.8 389.4,319.8 C389.4,320.9 389.9,320.9 390.2,322.3 C390.5,323.6 390.8,326.7 391.1,327.9 C391.5,329.1 391.7,329.1 392.2,329.5 C392.7,329.9 393.6,330.3 394.2,330.3 C394.8,330.3 395.5,330.3 395.8,329.5 C396.1,328.7 396.2,326.7 396.2,325.5 C396.2,324.3 396.0,322.8 396.0,322.3"/>
<path d="M399.8,309.4 C399.3,310.3 397.6,313.1 396.6,315.0 C395.7,316.9 394.7,319.3 394.2,320.6 C393.7,322.0 393.5,322.7 393.4,323.1"/>
<path d="M401.5,310.2 C400.9,311.1 399.1,313.9 398.2,315.8 C397.4,317.7 396.5,320.5 396.2,321.5"/>
<path d="M390.2,322.3 L393.4,323.1"/>
<path d="M394.0,322.7 L396.2,321.9 L396.1,329.4 L394.2,330.2 L394.0,322.7 Z" class="gr"/>
<path d="M362.1,372.0 L362.1,361.5 L364.1,360.2 L367.2,360.8 L367.7,366.9 L371.1,368.7 L371.7,366.5 L374.0,365.8 L376.2,366.9 L376.5,372.6 L375.6,378.2 L374.5,380.7" class="f"/>
<path d="M363.8,361.3 L363.8,370.1"/>
<path d="M374.5,366.9 L374.5,376.5"/>
<path d="M361.0,372.6 C360.2,373.0 357.7,373.9 356.5,374.8 C355.2,375.8 354.2,376.9 353.6,378.2 C353.1,379.5 352.9,381.6 353.1,382.7 C353.3,383.9 354.5,384.8 354.8,385.2 L354.8,385.2 L377.9,395.4 L377.9,395.4 C378.7,396.0 381.0,398.8 382.4,399.1 C383.8,399.5 385.4,398.5 386.4,397.4 C387.3,396.4 388.0,394.3 388.1,392.9 C388.2,391.5 387.1,389.6 386.9,389.0 L386.9,389.0 L361.0,372.6 Z" class="f"/>
<path d="M357.0,378.2 L380.2,390.2"/>
<path d="M373.6,384.4 L375.4,385.2 L375.1,386.4 L373.4,385.7 L373.6,384.4"/>
<ellipse cx="383.3" cy="393.5" rx="4.1" ry="5.6" transform="rotate(25 383.3 393.5)" class="f"/>
<ellipse cx="383.1" cy="393.8" rx="2.3" ry="3.4" transform="rotate(25 383.1 393.8)"/>
<path d="M359.2,389.8 C358.1,391.0 354.9,394.1 352.9,396.5 C350.9,399.0 348.7,402.1 347.0,404.5 C345.3,407.0 343.8,409.6 342.8,411.2 C341.8,412.8 341.3,413.7 340.9,414.2 L340.9,414.2 L346.2,418.3 L346.2,418.3 C347.0,417.2 349.2,413.3 350.8,411.2 C352.4,409.1 354.1,407.1 356.0,405.6 C358.0,404.0 360.3,402.7 362.3,401.8 C364.3,400.9 367.0,400.6 368.0,400.3" class="f"/>
<path d="M363.8,392.8 C362.7,393.7 359.4,396.6 357.5,398.6 C355.6,400.7 353.7,402.9 352.3,404.9 C350.8,407.0 349.3,409.8 348.7,410.8"/>
<path d="M368.0,400.3 C368.7,400.4 370.9,400.3 372.2,400.7 C373.4,401.2 374.6,401.7 375.5,402.8 C376.4,404.0 377.2,405.6 377.6,407.7 C378.1,409.7 378.3,412.4 378.1,415.0 C377.8,417.6 377.1,420.8 376.4,423.4 C375.6,425.9 374.4,428.5 373.4,430.3 C372.5,432.0 371.2,433.3 370.7,433.9 L370.7,433.9 C371.1,434.0 371.9,435.2 372.8,434.9 C373.7,434.7 374.7,433.9 376.0,432.4 C377.2,430.9 379.2,428.4 380.6,425.9 C381.9,423.3 383.3,420.1 383.9,417.1 C384.5,414.0 384.7,410.5 384.3,407.7 C384.0,404.8 382.9,402.0 381.8,399.9 C380.7,397.8 378.3,395.9 377.6,395.1" class="f"/>
<path d="M376.0,402.4 C376.6,403.5 379.0,406.3 379.7,408.7 C380.5,411.1 380.8,414.3 380.6,417.1 C380.4,419.9 379.5,422.9 378.5,425.5 C377.4,428.1 375.0,431.4 374.3,432.6"/>
<path d="M350.8,412.1 C351.7,411.1 354.1,408.1 356.0,406.6 C358.0,405.1 360.1,403.9 362.3,403.0 C364.5,402.2 367.3,401.5 369.2,401.6 C371.2,401.6 373.4,403.0 374.3,403.2"/>
<path d="M457.7,508.8 C457.1,508.7 455.1,508.1 453.9,508.4 C452.7,508.6 451.4,509.4 450.6,510.3 C449.9,511.3 449.6,512.9 449.4,514.2 C449.1,515.5 448.9,516.9 449.4,518.1 C449.8,519.2 451.5,520.8 451.9,521.3 L451.9,521.3 L464.8,526.7 L464.8,526.7 C465.5,527.0 467.4,528.7 468.7,528.6 C470.0,528.6 471.7,527.6 472.6,526.5 C473.5,525.3 474.1,523.7 474.1,521.9 C474.1,520.2 472.8,517.1 472.6,516.1 L472.6,516.1 L457.7,508.8 Z" class="f"/>
<ellipse cx="469.4" cy="521.7" rx="3.9" ry="5.7" transform="rotate(25 469.4 521.7)" class="f"/>
<ellipse cx="469.0" cy="522.2" rx="2.1" ry="3.2" transform="rotate(25 469.0 522.2)"/>
<ellipse cx="453.2" cy="514.2" rx="1.3" ry="1.5"/>
<path d="M453.9,522.6 C453.1,523.5 450.8,526.1 449.4,528.4 C448.0,530.6 446.6,533.3 445.5,536.1 C444.4,538.9 443.5,541.9 442.9,545.2 C442.3,548.4 442.0,552.3 441.9,555.5 C441.8,558.7 442.2,563.0 442.3,564.5"/>
<path d="M442.3,564.5 L447.0,567.7 L448.1,567.1"/>
<path d="M464.8,527.7 C464.0,528.7 461.3,531.5 459.7,533.5 C458.1,535.6 456.6,537.6 455.2,540.0 C453.8,542.4 452.4,545.2 451.3,547.7 C450.2,550.3 449.3,553.1 448.7,555.5 C448.1,557.8 448.0,560.0 447.8,561.9 C447.7,563.9 447.8,566.2 447.8,567.1" class="b"/>
<path d="M462.9,529.9 C462.0,531.0 459.3,534.1 457.7,536.4 C456.2,538.7 454.7,541.3 453.5,543.9 C452.3,546.4 451.1,549.2 450.4,551.6 C449.7,554.0 449.3,557.0 449.1,558.1"/>
<path d="M447.8,558.7 L449.4,558.1 L449.4,566.5 L447.8,567.4 Z" class="gr5"/>
<path d="M473.2,523.9 C474.0,524.1 476.1,524.5 477.7,525.2 C479.4,525.8 481.4,526.6 482.9,527.7 C484.4,528.9 485.9,530.9 486.8,532.3 C487.6,533.7 487.8,535.5 488.1,536.1" class="b"/>
<path d="M471.3,527.7 C472.2,527.7 475.1,527.3 476.5,527.7 C477.8,528.2 478.9,529.1 479.7,530.3 C480.4,531.5 480.8,534.1 481.0,534.8"/>
<path d="M481.0,534.8 L481.0,543.9 L485.5,545.4 L488.1,544.5 L488.1,536.1"/>
<path d="M475.2,525.8 C476.0,526.1 478.8,526.5 480.3,527.4 C481.8,528.2 483.3,529.7 484.2,531.0 C485.1,532.2 485.5,534.2 485.7,534.8"/>
<path d="M485.5,535.1 L488.1,536.4 L488.1,544.5 L485.7,545.2 Z" class="gr5"/>
</g>
<g id="bushings" class="k">
<path d="M392.3,255.6 L388.0,253.4 L388.0,253.4 C387.6,253.5 386.3,253.7 385.6,254.2 C384.9,254.7 384.3,255.6 384.0,256.5 C383.7,257.4 383.5,258.5 383.6,259.4 C383.7,260.3 384.4,261.5 384.6,261.9 L384.6,261.9 L388.2,263.9" class="f"/>
<ellipse cx="390.8" cy="260.0" rx="2.9" ry="4.4" transform="rotate(25 390.8 260.0)" class="fb"/>
<path d="M348.7,368.6 L344.4,366.4 L344.4,366.4 C344.0,366.5 342.7,366.7 342.0,367.2 C341.3,367.7 340.7,368.6 340.4,369.5 C340.1,370.4 339.9,371.5 340.0,372.4 C340.1,373.3 340.8,374.5 341.0,374.9 L341.0,374.9 L344.6,376.9" class="f"/>
<ellipse cx="347.2" cy="373.0" rx="2.9" ry="4.4" transform="rotate(25 347.2 373.0)" class="fb"/>
<path d="M591.0,370.7 L586.7,368.5 L586.7,368.5 C586.3,368.6 585.0,368.8 584.3,369.3 C583.6,369.8 583.0,370.7 582.7,371.6 C582.4,372.5 582.2,373.6 582.3,374.5 C582.4,375.4 583.1,376.6 583.3,377.0 L583.3,377.0 L586.9,379.0" class="f"/>
<ellipse cx="589.5" cy="375.1" rx="2.9" ry="4.4" transform="rotate(25 589.5 375.1)" class="fb"/>
<path d="M499.5,455.6 L495.2,453.4 L495.2,453.4 C494.8,453.5 493.5,453.7 492.8,454.2 C492.1,454.7 491.5,455.6 491.2,456.5 C490.9,457.4 490.7,458.5 490.8,459.4 C490.9,460.3 491.6,461.5 491.8,461.9 L491.8,461.9 L495.4,463.9" class="f"/>
<ellipse cx="498.0" cy="460.0" rx="2.9" ry="4.4" transform="rotate(25 498.0 460.0)" class="fb"/>
<path d="M509.3,541.0 L505.0,538.8 L505.0,538.8 C504.6,538.9 503.3,539.1 502.6,539.6 C501.9,540.1 501.3,541.0 501.0,541.9 C500.7,542.8 500.5,543.9 500.6,544.8 C500.7,545.7 501.4,546.9 501.6,547.3 L501.6,547.3 L505.2,549.3" class="f"/>
<ellipse cx="507.8" cy="545.4" rx="2.9" ry="4.4" transform="rotate(25 507.8 545.4)" class="fb"/>
<path d="M300.5,420.8 L296.2,418.6 L296.2,418.6 C295.8,418.7 294.5,418.9 293.8,419.4 C293.1,419.9 292.5,420.8 292.2,421.7 C291.9,422.6 291.7,423.7 291.8,424.6 C291.9,425.5 292.6,426.7 292.8,427.1 L292.8,427.1 L296.4,429.1" class="f"/>
<ellipse cx="299.0" cy="425.2" rx="2.9" ry="4.4" transform="rotate(25 299.0 425.2)" class="fb"/>
</g>
<g id="small" class="k">
<path d="M336.8,433.5 L340.6,431.6 L341.9,435.5 L347.1,436.8 L347.7,432.9 L350.3,432.3 L351.6,436.8 L349.7,440.6 L345.8,443.5" class="f"/>
<path d="M349.0,432.9 L349.0,439.4"/>
<path d="M304.5,439.6 L307.4,436.8 L317.4,436.1 L325.2,439.4 L325.2,447.4 L304.5,448.1 Z" class="f"/>
<path d="M307.7,441.9 L324.5,441.4"/>
<path d="M304.5,448.1 L307.7,441.9"/>
<path d="M325.2,439.4 L336.8,433.5 L336.8,433.5 C337.6,434.1 340.2,435.4 341.9,436.8 C343.7,438.2 346.2,441.1 347.1,441.9 L347.1,441.9 L338.1,455.1 L325.2,447.7 Z" class="f"/>
<ellipse cx="343.0" cy="449.0" rx="4.4" ry="5.9" transform="rotate(30 343.0 449.0)" class="f"/>
<ellipse cx="343.0" cy="449.2" rx="2.7" ry="4.0" transform="rotate(30 343.0 449.2)"/>
<path d="M297.0,438.1 L304.0,439.4 L304.5,449.2 L297.5,447.9 Z" class="f"/>
<path d="M299.1,439.4 L299.6,448.1"/>
<ellipse cx="296.5" cy="445.2" rx="1.7" ry="1.9" class="f"/>
<ellipse cx="175.6" cy="626.1" rx="7.0" ry="8.8" transform="rotate(25 175.6 626.1)" class="f"/>
<ellipse cx="176.9" cy="625.9" rx="5.4" ry="6.7" transform="rotate(25 176.9 625.9)"/>
<ellipse cx="176.4" cy="626.4" rx="3.5" ry="4.8" transform="rotate(25 176.4 626.4)" class="b"/>
<ellipse cx="176.1" cy="626.6" rx="2.2" ry="3.2" transform="rotate(25 176.1 626.6)" class="t"/>
<path d="M234.5,532.3 L234.5,526.1 L234.5,526.1 C234.8,525.7 235.7,524.2 236.5,523.9 C237.2,523.6 238.5,523.9 239.0,524.3 C239.6,524.6 239.9,525.4 239.8,526.1 C239.7,526.7 238.7,527.4 238.4,528.1 C238.1,528.9 237.8,529.8 238.0,530.5 C238.2,531.1 239.1,531.8 239.8,532.3 C240.5,532.7 241.6,533.1 242.3,532.9 C242.9,532.7 243.0,531.5 243.5,531.0 C244.1,530.5 244.9,529.8 245.5,529.9 C246.1,530.0 246.8,531.3 247.0,531.6 L247.0,531.6 L246.8,536.1 L245.5,542.6 L244.8,551.0 L241.6,551.0" class="f"/>
<path d="M245.2,531.0 L244.2,542.6"/>
<path d="M221.2,551.0 C221.1,551.5 221.0,553.1 220.3,554.2 C219.6,555.3 218.5,557.0 217.1,557.4 C215.7,557.8 213.0,557.3 211.9,556.8 C210.9,556.2 210.9,554.6 210.6,554.2 L210.6,554.2 L210.6,538.7 L210.6,538.7 C210.8,537.7 210.1,535.5 211.3,532.9 C212.5,530.3 216.1,525.0 217.7,523.2 C219.4,521.4 219.9,522.1 221.0,522.2 C222.0,522.3 223.7,523.6 224.2,523.9 L224.2,523.9 L232.6,531.6 L241.6,540.0 L241.6,540.0 C241.8,540.6 242.7,542.4 242.9,543.9 C243.1,545.4 243.0,547.8 242.6,549.0 C242.3,550.2 241.2,550.6 241.0,551.0 L241.0,551.0 L235.2,549.7 L228.7,547.1 L221.2,542.8 L221.2,551.0 Z" class="f"/>
<path d="M219.0,552.9 C218.6,553.3 217.3,554.9 216.5,555.2 C215.6,555.5 214.5,555.1 213.9,554.8 C213.3,554.6 213.1,553.8 213.0,553.5 L213.0,553.5 L213.0,538.7 L213.0,538.7 C213.0,537.9 212.3,536.0 213.2,533.8 C214.2,531.7 217.5,527.2 218.6,525.8 C219.8,524.4 220.0,525.3 220.3,525.2"/>
<path d="M221.0,525.2 L221.0,551.6"/>
<path d="M222.9,526.5 L231.3,533.5 L239.7,541.3 L239.7,541.3 C239.8,541.8 240.5,543.3 240.6,544.5 C240.7,545.7 240.4,547.7 240.3,548.4"/>
<ellipse cx="216.7" cy="536.4" rx="1.5" ry="2.6" transform="rotate(15 216.7 536.4)"/>
<ellipse cx="216.7" cy="552.3" rx="1.5" ry="2.3" transform="rotate(15 216.7 552.3)"/>
<ellipse cx="233.9" cy="543.2" rx="2.5" ry="3.6" transform="rotate(-20 233.9 543.2)"/>
<ellipse cx="234.5" cy="543.6" rx="1.2" ry="2.1" transform="rotate(-20 234.5 543.6)" class="t"/>
<path d="M243.9,539.0 L243.2,551.1 L242.3,558.4 L243.9,560.3 L247.7,558.7 L248.4,556.5 L246.8,550.3 L246.1,542.3 L246.8,537.4 Z" class="f"/>
<path d="M242.6,552.3 L245.8,551.6 L246.5,558.1 L243.2,559.0 Z" class="gr"/>
<path d="M225.8,551.1 C225.7,551.5 224.9,552.6 225.0,553.5 C225.1,554.5 225.5,556.0 226.6,556.8 C227.7,557.6 230.4,558.4 231.5,558.4 C232.5,558.4 232.5,557.5 233.1,556.8 C233.6,556.0 234.4,554.4 234.7,553.9 L234.7,553.9 C235.2,554.0 237.1,554.0 237.9,554.5 C238.7,555.0 239.4,555.9 239.5,556.8 C239.7,557.7 239.3,559.2 238.7,560.0 C238.1,560.8 236.5,560.6 235.8,561.3 C235.1,562.0 234.6,563.0 234.7,564.0 C234.8,565.0 235.3,566.5 236.3,567.3 C237.2,568.1 239.3,568.9 240.3,568.9 C241.3,568.9 241.9,568.1 242.3,567.3 C242.6,566.5 242.5,564.6 242.6,564.0 L242.6,564.0 L242.3,558.4 L234.7,552.3 L228.2,550.3 L225.8,551.1 Z" class="f"/>
<path d="M228.2,551.3 C228.9,551.5 231.2,552.0 232.3,552.4 C233.3,552.8 234.3,553.6 234.7,553.9"/>
<path d="M236.3,561.6 C236.7,561.9 237.8,563.3 238.7,563.5 C239.6,563.8 241.1,563.3 241.6,563.2"/>
<path d="M246.8,561.3 L251.3,562.4 L253.5,566.5 L251.9,570.5 L248.1,569.4 L245.5,565.2 Z" class="gr2"/>
<path d="M247.1,561.9 L246.1,569.0" class="b"/>
<path d="M248.7,562.4 L247.9,569.2" class="b"/>
<path d="M250.3,562.9 L249.7,569.4" class="b"/>
<path d="M251.9,563.4 L251.5,569.5" class="b"/>
<ellipse cx="250.3" cy="566.5" rx="1.0" ry="1.3" class="wf"/>
<path d="M248.4,570.0 C248.7,570.7 250.0,572.9 250.0,574.2 C250.0,575.5 249.5,576.6 248.4,577.7 C247.3,578.9 245.2,580.0 243.5,581.0 C241.9,581.9 240.2,582.7 238.7,583.4 C237.2,584.1 235.3,584.9 234.7,585.2 L234.7,585.2 L230.6,581.9 L230.6,581.9 C231.0,581.5 232.0,580.2 233.1,579.4 C234.1,578.5 235.7,577.8 237.1,576.9 C238.5,576.0 240.6,575.1 241.6,573.9 C242.6,572.6 242.7,570.1 242.9,569.4" class="f"/>
<path d="M233.1,582.9 C233.9,582.5 236.4,581.2 237.9,580.3 C239.4,579.5 241.0,578.7 242.3,577.7 C243.5,576.8 244.9,575.1 245.5,574.5"/>
<path d="M268.7,520.6 L275.4,517.3 L275.4,517.3 C275.8,517.4 276.9,517.4 277.5,517.8 C278.0,518.2 278.5,518.8 278.8,519.6 C279.1,520.4 279.3,521.7 279.2,522.7 C279.0,523.7 278.0,525.1 277.7,525.5 L277.7,525.5 L271.0,529.0 L268.5,528.6 Z" class="gr4"/>
<path d="M271.5,519.4 L272.1,528.4" class="g"/>
<path d="M273.4,518.6 L273.9,527.4" class="g"/>
<path d="M275.2,517.8 L275.7,526.3" class="g"/>
<path d="M277.0,517.0 L277.5,525.3" class="g"/>
<ellipse cx="268.6" cy="524.8" rx="2.2" ry="4.0" transform="rotate(15 268.6 524.8)" class="f"/>
<ellipse cx="268.8" cy="524.8" rx="1.2" ry="2.5" transform="rotate(15 268.8 524.8)" class="t"/>
<path d="M272.5,566.1 C272.2,566.3 271.2,566.7 270.9,567.2 C270.5,567.6 270.4,568.3 270.4,568.8 C270.4,569.3 270.7,570.0 270.7,570.2 L270.7,570.2 L281.4,575.9 L283.9,571.4 L272.5,566.1 Z" class="f"/>
<path d="M272.9,566.5 L271.1,570.1"/>
<path d="M274.3,567.2 L272.6,570.8"/>
<path d="M275.8,567.9 L274.0,571.4"/>
<path d="M277.2,568.6 L275.5,572.1"/>
<path d="M278.7,569.3 L276.9,572.8"/>
<path d="M280.1,569.9 L278.4,573.5"/>
<path d="M281.6,570.6 L279.8,574.2"/>
<path d="M272.5,566.1 L283.9,571.4" class="b"/>
<path d="M270.7,570.2 L281.4,575.9" class="b"/>
<ellipse cx="283.1" cy="576.4" rx="2.4" ry="5.3" transform="rotate(25 283.1 576.4)" class="f"/>
<path d="M285.0,570.4 L288.6,570.1 L292.2,573.1 L293.6,577.0 L292.8,581.2 L289.6,583.6 L286.2,582.8 L284.2,581.0" class="f"/>
<path d="M288.6,570.1 L287.6,573.1 L286.2,582.8"/>
<path d="M287.6,573.1 L285.0,570.4"/>
<ellipse cx="290.4" cy="578.3" rx="2.4" ry="3.7" transform="rotate(25 290.4 578.3)" class="f"/>
<ellipse cx="290.4" cy="578.3" rx="2.4" ry="3.7" transform="rotate(25 290.4 578.3)" class="b"/>
<path d="M410.0,233.3 L413.2,233.5 L412.6,241.8 L409.5,241.5 Z" class="f"/>
<path d="M410.0,232.7 L413.4,233.0 L413.2,234.3 L409.9,234.0 Z" class="gr5"/>
<path d="M411.3,234.7 L410.9,241.5" class="t"/>
<path d="M521.7,356.5 C521.9,356.6 522.9,356.8 523.2,357.4 C523.6,357.9 523.5,359.1 523.7,359.9 C524.0,360.8 524.7,361.5 524.8,362.3 C524.9,363.0 524.7,363.7 524.3,364.2 C523.8,364.7 522.7,365.1 521.9,365.1 C521.2,365.1 520.1,364.8 519.6,364.3 C519.1,363.8 519.0,363.0 519.1,362.3 C519.2,361.5 519.9,360.8 520.1,359.9 C520.3,359.1 520.1,357.9 520.4,357.4 C520.6,356.8 521.5,356.6 521.7,356.5 Z" class="f"/>
<path d="M519.4,362.0 C519.7,362.2 520.8,363.2 521.7,363.3 C522.5,363.3 524.0,362.4 524.5,362.3"/>
<ellipse cx="521.9" cy="363.3" rx="1.8" ry="1.0" class="b"/>
<path d="M519.6,373.9 L524.0,373.6 L524.0,383.2 L521.9,384.2 L519.6,383.2 Z" class="gr"/>
<path d="M519.6,375.7 L524.0,374.6" class="b"/>
<path d="M519.6,377.2 L524.0,376.2" class="b"/>
<path d="M519.6,378.8 L524.0,377.7" class="b"/>
<path d="M519.6,380.3 L524.0,379.3" class="b"/>
<path d="M519.6,381.9 L524.0,380.8" class="b"/>
<path d="M519.6,383.2 L524.0,382.1" class="b"/>
<ellipse cx="521.9" cy="394.5" rx="6.2" ry="3.9" class="f"/>
<path d="M516.1,395.2 C516.2,395.7 516.2,397.5 516.8,398.4 C517.3,399.2 518.1,400.0 519.4,400.3 C520.6,400.6 523.2,400.6 524.5,400.3 C525.8,400.0 526.5,399.2 527.1,398.4 C527.7,397.5 527.7,395.7 527.9,395.2"/>
<ellipse cx="521.9" cy="393.5" rx="4.1" ry="2.1" class="b"/>
<ellipse cx="521.9" cy="394.0" rx="2.8" ry="1.2" class="t"/>
</g>
<g id="leaders" class="k">
<path d="M313.4,228.5 H215.2 L206.6,243.4" class="ldg"/>
<path d="M201.4,252.6 L205,241.6 L209.8,244.2 Z" class="blk"/>
<path d="M389.1,233.4 L389.1,252.7" class="ld"/>
<path d="M413.9,237.3 L433.9,237.3" class="ld"/>
<path d="M511.4,272.5 L511.4,286.3" class="ld"/>
<path d="M382.3,292.7 L394.5,292.7" class="ld"/>
<path d="M346.2,337.5 L346.2,365.5" class="ld"/>
<path d="M373.6,351.7 L373.6,365.8" class="ld"/>
<path d="M509,362.4 L519.4,362.4" class="ld"/>
<path d="M511,379.3 L519,379.3" class="ld"/>
<path d="M587.5,379 L587.5,409.5" class="ld"/>
<path d="M434.5,428.4 L434.5,443.7" class="ld"/>
<path d="M249.6,459.6 V472.4 M227.6,524.5 V472.4 H272 V484" class="ld"/>
<path d="M272,505 L272,516" class="ld"/>
<path d="M325.4,443 L325.4,468.4" class="ld"/>
<path d="M298,399 L298,424" class="ld"/>
<path d="M496.3,465 L496.3,485" class="ld"/>
<path d="M395.8,487.3 L395.8,505.8" class="ld"/>
<path d="M293.9,578 L317,578" class="ld"/>
<path d="M505.5,550.3 L505.5,570.3" class="ld"/>
<path d="M447,568.4 L447,589.5" class="ld"/>
<path d="M183.2,626.4 L204.5,626.4" class="ld"/>
</g>
<g id="labels" filter="url(#gs)">
<text class="ref" x="219.2" y="224.7">REF.43-431B</text>
<text class="l" x="361.75" y="227.5">43885A</text>
<text class="l" x="435.6" y="242.5">43842</text>
<text class="l" x="487" y="269.25">43810A</text>
<text class="l" x="327" y="300">43841A</text>
<text class="l" x="320" y="332.5">43885A</text>
<text class="l" x="348.6" y="348.75">43861A</text>
<text class="l" x="455" y="367.3">43846G</text>
<text class="l" x="452.2" y="385.3">1431CC</text>
<text class="l" x="272.5" y="394.5">43885A</text>
<text class="l" x="560.8" y="423.75">43885A</text>
<text class="l" x="407" y="458.25">43821A</text>
<text class="l" x="222" y="454.6">43850C</text>
<text class="l" x="299.5" y="483">43827B</text>
<text class="l" x="251.25" y="498.2">43852</text>
<text class="l" x="472.6" y="499.3">43885A</text>
<text class="l" x="370" y="520">43830A</text>
<text class="l" x="318.75" y="583.5">1140FE</text>
<text class="l" x="480.5" y="585.5">43885A</text>
<text class="l" x="420.75" y="603">43862D</text>
<text class="l" x="208" y="631.75">43855C</text>
</g>
<g id="wm" style="mix-blend-mode:multiply">
<g filter="url(#wb)"><text class="wmd" x="30.2 42.3 53.5 60.7 72.5 82.9 94.9 106.7 117.3 123.4 129.3 136.2" y="50.4">avtochast.ru</text><text class="wml" x="31.4 43.5 54.7 61.9 73.7 84.1 96.1 107.9 118.5 124.6 130.5 137.4" y="51.4">avtochast.ru</text></g>
<g filter="url(#wb)"><text class="wmd" x="250.8 262.9 274.1 281.3 293.1 303.5 315.5 327.3 337.9 344.0 349.9 356.8" y="431.2">avtochast.ru</text><text class="wml" x="252.0 264.1 275.3 282.5 294.3 304.7 316.7 328.5 339.1 345.2 351.1 358.0" y="432.2">avtochast.ru</text></g>
<g filter="url(#wb)"><text class="wmd" x="470.2 482.3 493.5 500.7 512.5 522.9 534.9 546.7 557.3 563.4 569.3 576.2" y="812.0">avtochast.ru</text><text class="wml" x="471.4 483.5 494.7 501.9 513.7 524.1 536.1 547.9 558.5 564.6 570.5 577.4" y="813.0">avtochast.ru</text></g>
</g>
</svg>
</body>
</html>
